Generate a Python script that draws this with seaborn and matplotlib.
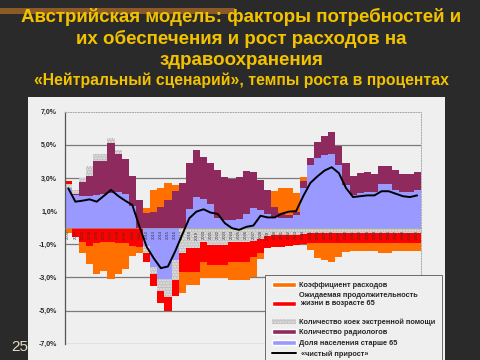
import numpy as np
import matplotlib
matplotlib.use("Agg")
import matplotlib.pyplot as plt
import seaborn as sns
from matplotlib.patches import Patch, Rectangle
from matplotlib.lines import Line2D

# годы прогноза (категории)
years = [str(y) for y in range(2001, 2051)]

# Доля населения старше 65
dolya_65 = [2.4, 2.0, 1.9, 1.9, 2.0, 2.05, 2.1, 2.15, 2.05, 1.3,
            0.0, -1.1, -2.4, -3.1, -3.1, -1.95, 0.0, 1.1, 1.85, 1.75,
            1.45, 0.6, 0.45, 0.45, 0.5, 0.8, 1.2, 1.05, 0.85, 0.65,
            0.6, 0.6, 0.75, 2.4, 3.78, 4.19, 4.39, 4.45, 3.78, 2.6,
            1.97, 2.08, 2.14, 2.14, 2.62, 2.62, 2.28, 2.14, 2.14, 2.28]
# Количество радиологов
radiologi = [0.0, 0.05, 0.84, 1.24, 2.02, 1.97, 2.99, 2.29, 2.08, 1.82,
             1.67, 0.87, 0.97, 1.27, 1.67, 2.2, 2.68, 2.83, 2.82, 2.53,
             2.48, 2.88, 2.63, 2.48, 2.56, 2.6, 2.15, 1.85, 1.45, 0.58,
             0.27, 0.17, 0.22, 0.44, 0.42, 1.0, 1.16, 1.3, 1.17, 1.28,
             1.17, 1.2, 1.2, 1.1, 1.1, 1.12, 1.2, 1.1, 1.08, 1.06]
# Количество коек экстренной помощи
koiki = [0.25, 0.2, 0.25, 0.6, 0.45, 0.45, 0.3, 0.25, 0.0, 0.0,
         0.0, -0.4, -0.4, -0.7, -1.1, -1.2, -1.5, -1.25, -1.25, -0.85,
         -1.05, -1.05, -1.05, -0.85, -0.85, -0.85, -0.8, -0.7, -0.5, -0.45,
         -0.45, -0.45, -0.45, -0.4, -0.35, -0.35, -0.35, -0.35, -0.35, -0.35,
         -0.35, -0.35, -0.35, -0.35, -0.35, -0.35, -0.35, -0.35, -0.35, -0.35]
# Ожидаемая продолжительность жизни в возрасте 65
zhizn_65 = [0.15, -0.55, -0.85, -1.1, -0.9, -0.85, -0.85, -0.9, -0.9, -1.1,
            -1.15, -0.6, -0.7, -0.75, -0.85, -1.0, -1.2, -1.4, -1.4, -1.2,
            -1.2, -1.2, -1.2, -1.2, -1.2, -1.2, -0.95, -0.8, -0.7, -0.7,
            -0.7, -0.65, -0.6, -0.6, -0.6, -0.6, -0.6, -0.6, -0.6, -0.6,
            -0.6, -0.6, -0.6, -0.6, -0.6, -0.6, -0.6, -0.6, -0.6, -0.6]
# Коэффициент расходов
koef_rashodov = [-0.35, 0.0, -0.65, -1.1, -1.9, -1.75, -2.25, -1.9, -1.6, -0.6,
                 -0.35, 0.3, 1.3, 1.1, 1.05, 0.4, -1.25, -0.8, -0.8, -1.0,
                 -0.8, -0.8, -0.8, -1.1, -1.1, -1.1, -1.2, -0.4, 0.0, 1.0,
                 1.5, 1.6, 1.1, 0.2, -0.4, -0.9, -1.0, -1.1, -0.8, -0.5,
                 -0.45, -0.45, -0.45, -0.45, -0.55, -0.55, -0.45, -0.45, -0.45, -0.45]
# «чистый прирост»
chisty_prirost = [2.38, 1.57, 1.63, 1.71, 1.57, 1.92, 2.28, 1.92, 1.63, 1.37,
                  0.07, -1.14, -1.84, -2.44, -2.34, -1.44, -0.43, 0.57, 0.97, 1.11,
                  0.91, 0.83, 0.27, -0.03, -0.13, 0.05, 0.13, 0.72, 0.62, 0.62,
                  0.85, 0.97, 1.0, 1.9, 2.7, 3.1, 3.45, 3.65, 3.3, 2.4,
                  1.85, 1.9, 1.95, 1.95, 2.2, 2.2, 2.05, 1.9, 1.85, 1.95]

y_ticks = [7, 5, 3, 1, -1, -3, -5, -7]
y_labels = ["7,0%", "5,0%", "3,0%", "1,0%", "-1,0%", "-3,0%", "-5,0%", "-7,0%"]

legend_labels = ["Коэффициент расходов",
                 "Ожидаемая продолжительность\n жизни в возрасте 65\n ",
                 "Количество коек экстренной помощи",
                 "Количество радиологов",
                 "Доля населения старше 65",
                 " «чистый прирост»"]

sns.set_style("white")
plt.rcParams['font.family'] = ['Liberation Sans', 'DejaVu Sans']

c_blue = "#9999FF"
c_purple = "#8E2A5E"
c_gray = "#C0C0C0"
c_red = "#FF0000"
c_orange = "#FF7000"
bg_chart = "#EFEFEF"

fig = plt.figure(figsize=(4.8, 3.6), dpi=100, facecolor="#2A2A2A")

# полоска-украшение сверху
fig.patches.append(Rectangle((0, 1 - 14 / 360), 235 / 480, 6 / 360, transform=fig.transFigure,
                             facecolor="#8C5A26", edgecolor="none", zorder=-2))
# область диаграммы
fig.patches.append(Rectangle((28 / 480, 0), 417 / 480, 263 / 360, transform=fig.transFigure,
                             facecolor=bg_chart, edgecolor="none", zorder=-2))

# заголовок
ttl = dict(ha="center", va="baseline", color="#F2C200", fontweight="bold")
fig.text(0.503, 1 - 22.5 / 360, "Австрийская модель: факторы потребностей и", fontsize=13.5, **ttl)
fig.text(0.503, 1 - 44.5 / 360, "их обеспечения и рост расходов на", fontsize=13.5, **ttl)
fig.text(0.503, 1 - 65 / 360, "здравоохранения", fontsize=13.5, **ttl)
fig.text(0.503, 1 - 85 / 360, "«Нейтральный сценарий», темпы роста в процентах", fontsize=11.3, **ttl)
fig.text(28 / 480, 1 - 351 / 360, "25", ha="right", va="baseline", color="#E6DCC3", fontsize=11)

ax = fig.add_axes([64.7 / 480, 1 - 343.7 / 360, 356 / 480, 232 / 360])
ax.set_facecolor(bg_chart)
ax.set_axisbelow(False)

for yv in [5, 3, 1, -1, -3, -5, -7]:
    ax.axhline(yv, color="#7A7A7A", lw=0.9, zorder=0.3)

series = np.array([dolya_65, radiologi, koiki, zhizn_65, koef_rashodov])
colors = [c_blue, c_purple, c_gray, c_red, c_orange]
pos_cum = np.clip(series, 0, None).cumsum(axis=0)
neg_cum = np.clip(series, None, 0).cumsum(axis=0)

# рисуем слои от внешнего к внутреннему
for k in reversed(range(len(colors))):
    extra = dict(hatch="......", edgecolor="#E9E9E9") if k == 2 else {}
    for vals in (pos_cum[k], neg_cum[k]):
        sns.barplot(x=years, y=vals, color=colors[k], width=1, linewidth=0,
                    saturation=1, errorbar=None, ax=ax, zorder=1, **extra)

sns.lineplot(x=np.arange(len(years)), y=chisty_prirost, color="black", lw=1.4,
             ax=ax, zorder=5)

ax.set_xlim(-0.5, len(years) - 0.5)
ax.set_ylim(-7, 7)
ax.set_yticks(y_ticks)
ax.set_yticklabels(y_labels, fontsize=5, fontweight="bold")
ax.set_xticks(np.arange(len(years)))
ax.set_xticklabels(years)
ax.set_xlabel("")
ax.set_ylabel("")
ax.tick_params(axis="y", direction="out", length=2.5, width=0.6, color="#555555", pad=3)
ax.tick_params(axis="x", direction="out", length=1.2, width=0.4, color="#777777", pad=0.8,
               labelrotation=90, labelsize=3.0, labelcolor="#333333")

ax.spines["bottom"].set_position(("data", 0))
ax.spines["bottom"].set_color("#9A9A9A")
ax.spines["bottom"].set_linewidth(0.5)
ax.spines["left"].set_color("#555555")
ax.spines["left"].set_linewidth(0.9)
for s in ["top", "right"]:
    ax.spines[s].set_color("#A8A8A8")
    ax.spines[s].set_linestyle(":")
    ax.spines[s].set_linewidth(0.7)

handles = [Patch(facecolor=c_orange), Patch(facecolor=c_red),
           Patch(facecolor=c_gray, hatch="......", edgecolor="#E9E9E9", linewidth=0),
           Patch(facecolor=c_purple), Patch(facecolor=c_blue),
           Line2D([0], [0], color="black", lw=1.4)]
leg = ax.legend(handles, legend_labels, loc="upper left",
                bbox_to_anchor=(265 / 480, 1 - 275 / 360), bbox_transform=fig.transFigure,
                frameon=True, fancybox=False, framealpha=1, facecolor=bg_chart,
                edgecolor="#555555", prop={"size": 5.3, "weight": "bold"},
                handlelength=3.3, handleheight=0.7, labelspacing=0.45,
                borderpad=0.9, handletextpad=0.45, borderaxespad=0)
leg.get_frame().set_linewidth(0.6)
leg.set_zorder(10)

fig.savefig("out.png", dpi=100, facecolor=fig.get_facecolor())
